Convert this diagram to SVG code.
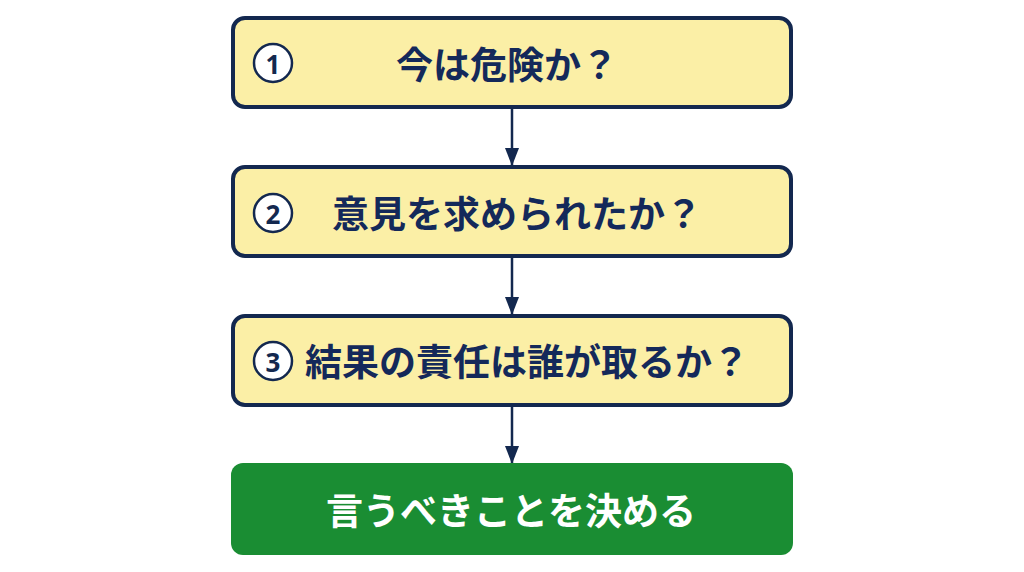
<svg xmlns="http://www.w3.org/2000/svg" width="1024" height="572" viewBox="0 0 1024 572">
<style>
.box{fill:#fbefa6;stroke:#13284f;stroke-width:4}
.go{fill:#1a8d33}
.t{font-family:"Noto Sans CJK JP","Noto Sans",sans-serif;font-weight:700;font-size:37px;fill:#14295a;text-anchor:middle;dominant-baseline:central}
.w{fill:#ffffff}
.num{fill:#ffffff;stroke:#13284f;stroke-width:2.5}
.nt{font-family:"Noto Sans","Noto Sans CJK JP",sans-serif;font-weight:700;font-size:26px;fill:#13284f;text-anchor:middle;dominant-baseline:central}
.c{stroke:#13284f;stroke-width:2.5;fill:none}
</style>
<defs>
<marker id="ahb" markerWidth="18" markerHeight="14" refX="17" refY="7" orient="auto" markerUnits="userSpaceOnUse" viewBox="0 0 18 14">
<path d="M0,0 L18,7 L0,14 Z" fill="#13284f"/>
</marker>
</defs>
<rect width="1024" height="572" fill="#ffffff"/>
<g id="connectors">
<line class="c" x1="512" y1="107" x2="512" y2="165" marker-end="url(#ahb)"/>
<line class="c" x1="512" y1="257" x2="512" y2="314" marker-end="url(#ahb)"/>
<line class="c" x1="512" y1="405" x2="512" y2="463" marker-end="url(#ahb)"/>
</g>
<g id="node1">
<rect class="box" x="233" y="18" width="558" height="89" rx="12"/>
<circle class="num" cx="273" cy="63" r="19"/>
<text class="nt" x="273" y="64">1</text>
<text class="t" x="507" y="63">今は危険か？</text>
</g>
<g id="node2">
<rect class="box" x="233" y="167" width="558" height="89" rx="12"/>
<circle class="num" cx="273" cy="213" r="19"/>
<text class="nt" x="273" y="214">2</text>
<text class="t" x="517" y="212">意見を求められたか？</text>
</g>
<g id="node3">
<rect class="box" x="233" y="316" width="558" height="89" rx="12"/>
<circle class="num" cx="273" cy="361" r="19"/>
<text class="nt" x="273" y="362">3</text>
<text class="t" x="527" y="360">結果の責任は誰が取るか？</text>
</g>
<g id="node4">
<rect class="go" x="231" y="463" width="562" height="92" rx="12"/>
<text class="t w" x="511" y="509">言うべきことを決める</text>
</g>
</svg>
